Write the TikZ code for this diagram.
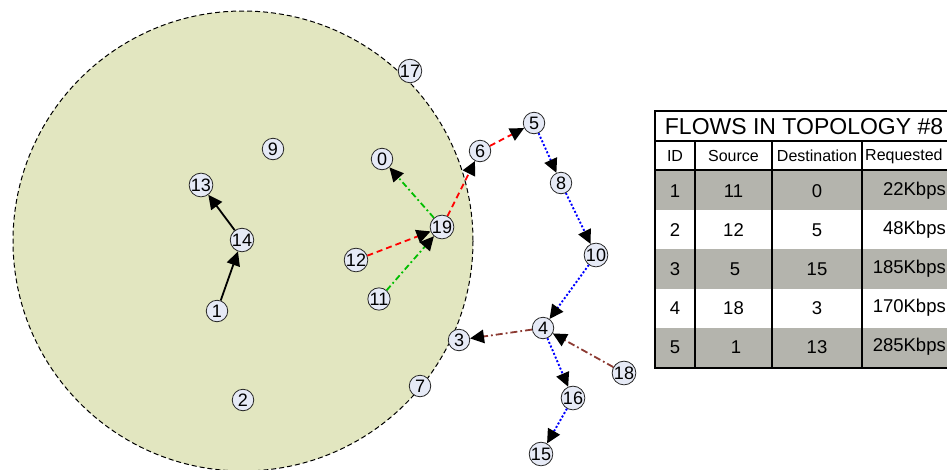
\documentclass[tikz,border=0pt]{standalone}
\usepackage{fontspec}
\setmainfont{Liberation Sans}
\usetikzlibrary{arrows.meta}
\definecolor{areafill}{RGB}{226,230,192}
\definecolor{nodefill}{RGB}{230,234,246}
\definecolor{rowgray}{RGB}{180,180,173}
\definecolor{flowbrown}{RGB}{140,58,50}
\definecolor{flowgreen}{RGB}{0,190,0}
\begin{document}
\begin{tikzpicture}[x=1pt,y=-1pt,
  netnode/.style={circle,draw=black!85,fill=nodefill,line width=0.8pt,inner sep=0pt,minimum size=21.5pt,font=\fontsize{18}{18}\selectfont},
  tipped/.style={-{Triangle[length=14pt,width=13.5pt,color=black]}},
  flowone/.style={tipped,flowgreen,line width=1.8pt,dash pattern=on 6pt off 3pt on 1.8pt off 3pt},
  flowtwo/.style={tipped,red,line width=1.8pt,dash pattern=on 6pt off 4pt},
  flowthree/.style={tipped,blue,line width=1.9pt,dash pattern=on 2pt off 2pt},
  flowfour/.style={tipped,flowbrown,line width=1.8pt,dash pattern=on 7pt off 3pt on 1.8pt off 3pt},
  flowfive/.style={tipped,black,line width=1.8pt},
  titletext/.style={font=\fontsize{23}{23}\selectfont},
  headtext/.style={font=\fontsize{16}{16}\selectfont},
  celltext/.style={font=\fontsize{18.5}{18.5}\selectfont},
]
\useasboundingbox (0,0) rectangle (947,469);
\clip (0,0) rectangle (947,469);

% coverage area
\draw[fill=areafill,line width=1pt,dash pattern=on 5pt off 3pt] (243,241) circle [radius=230];

% network nodes
\node[netnode] (n0) at (382,159) {0};
\node[netnode] (n1) at (217,311) {1};
\node[netnode] (n2) at (243,400) {2};
\node[netnode] (n3) at (459,340) {3};
\node[netnode] (n4) at (543,328) {4};
\node[netnode] (n5) at (534,123) {5};
\node[netnode] (n6) at (480,151) {6};
\node[netnode] (n7) at (420,386) {7};
\node[netnode] (n8) at (561,183) {8};
\node[netnode] (n9) at (273,149) {9};
\node[netnode] (n10) at (596,255) {10};
\node[netnode] (n11) at (379,299) {11};
\node[netnode] (n12) at (356,260) {12};
\node[netnode] (n13) at (201,185) {13};
\node[netnode] (n14) at (242,240) {14};
\node[netnode] (n15) at (541,454) {15};
\node[netnode] (n16) at (573,398) {16};
\node[netnode] (n17) at (410,71) {17};
\node[netnode] (n18) at (624,373) {18};
\node[netnode] (n19) at (442,227) {19};

% flow 1: 11 -> 0
\draw[flowone] (n11) -- (n19);
\draw[flowone] (n19) -- (n0);
% flow 2: 12 -> 5
\draw[flowtwo] (n12) -- (n19);
\draw[flowtwo] (n19) -- (n6);
\draw[flowtwo] (n6) -- (n5);
% flow 3: 5 -> 15
\draw[flowthree] (n5) -- (n8);
\draw[flowthree] (n8) -- (n10);
\draw[flowthree] (n10) -- (n4);
\draw[flowthree] (n4) -- (n16);
\draw[flowthree] (n16) -- (n15);
% flow 4: 18 -> 3
\draw[flowfour] (n18) -- (n4);
\draw[flowfour] (n4) -- (n3);
% flow 5: 1 -> 13
\draw[flowfive] (n1) -- (n14);
\draw[flowfive] (n14) -- (n13);

% table
\fill[white] (655,111) rectangle (952,170);
\fill[rowgray] (655,170) rectangle (952,209.6);
\fill[white] (655,209.6) rectangle (952,249.2);
\fill[rowgray] (655,249.2) rectangle (952,288.8);
\fill[white] (655,288.8) rectangle (952,328.4);
\fill[rowgray] (655,328.4) rectangle (952,368);
\draw[line width=1.3pt] (655,141) -- (952,141);
\draw[line width=1.3pt] (655,170) -- (952,170);
\draw[line width=1.3pt] (695,141) -- (695,368);
\draw[line width=1.3pt] (772,141) -- (772,368);
\draw[line width=1.3pt] (862,141) -- (862,368);
\draw[line width=1.8pt] (655,111) rectangle (952,368);

\node[titletext] (ttitle) at (804,127) {FLOWS IN TOPOLOGY \#8};
\node[headtext] (hid) at (675,156) {ID};
\node[headtext] (hsrc) at (733.5,156) {Source};
\node[headtext] (hdst) at (817,156) {Destination};
\node[headtext,anchor=west,inner sep=0pt] (hreq) at (865,156) {Requested};

\node[celltext] (c1id) at (675,191) {1};
\node[celltext] (c1s) at (733.5,191) {11};
\node[celltext] (c1d) at (817,191) {0};
\node[celltext,anchor=east,inner sep=0pt] (c1r) at (946,191) {22Kbps};

\node[celltext] (c2id) at (675,230) {2};
\node[celltext] (c2s) at (733.5,230) {12};
\node[celltext] (c2d) at (817,230) {5};
\node[celltext,anchor=east,inner sep=0pt] (c2r) at (946,230) {48Kbps};

\node[celltext] (c3id) at (675,269) {3};
\node[celltext] (c3s) at (735,269) {5};
\node[celltext] (c3d) at (817,269) {15};
\node[celltext,anchor=east,inner sep=0pt] (c3r) at (946,269) {185Kbps};

\node[celltext] (c4id) at (675,308) {4};
\node[celltext] (c4s) at (733.5,308) {18};
\node[celltext] (c4d) at (817,308) {3};
\node[celltext,anchor=east,inner sep=0pt] (c4r) at (946,308) {170Kbps};

\node[celltext] (c5id) at (675,347) {5};
\node[celltext] (c5s) at (736,347) {1};
\node[celltext] (c5d) at (817,347) {13};
\node[celltext,anchor=east,inner sep=0pt] (c5r) at (946,347) {285Kbps};
\end{tikzpicture}
\end{document}
